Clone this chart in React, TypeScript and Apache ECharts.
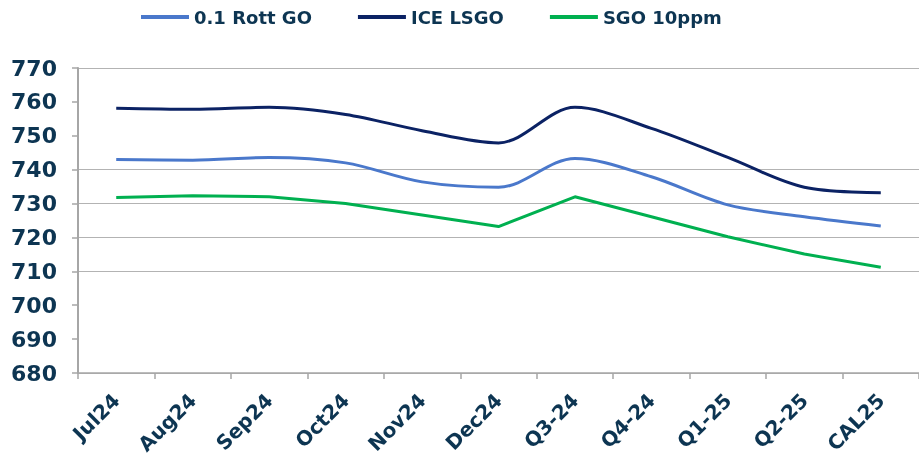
import React, { useEffect, useRef } from "react";
import * as echarts from "echarts";

const categories = ["Jul24", "Aug24", "Sep24", "Oct24", "Nov24", "Dec24", "Q3-24", "Q4-24", "Q1-25", "Q2-25", "CAL25"];
const rottGO = [743.0, 742.8, 743.6, 742.0, 736.4, 734.8, 743.3, 737.9, 729.6, 726.1, 723.4];
const iceLSGO = [758.1, 757.8, 758.4, 756.3, 751.5, 747.9, 758.4, 752.2, 743.6, 734.8, 733.2];
const sgo10ppm = [731.8, 732.3, 732.0, 730.0, 726.6, 723.2, 732.0, 726.1, 720.2, 715.1, 711.2];
const seriesNames = ["0.1 Rott GO", "ICE LSGO", "SGO 10ppm"];

const TEXT = "#0d3552";
const FONT = "DejaVu Sans";
const GRID = "#b3b3b3";

export default function App() {
  const ref = useRef<HTMLDivElement>(null);
  useEffect(() => {
    if (!ref.current) return;
    const chart = echarts.init(ref.current, null, { renderer: "svg" });
    chart.setOption({
      animation: false,
      legend: {
        left: 136,
        top: 3,
        icon: "rect",
        itemWidth: 48,
        itemHeight: 4,
        itemGap: 46,
        textStyle: { color: TEXT, fontFamily: FONT, fontWeight: "bold", fontSize: 18 },
        data: seriesNames,
      },
      grid: { left: 78, top: 68, right: 0, bottom: 87, containLabel: false, outerBoundsMode: "none" },
      xAxis: {
        type: "category",
        data: categories,
        boundaryGap: true,
        axisLine: { lineStyle: { color: "#a6a6a6", width: 1.5 } },
        axisTick: { show: true, length: 6, lineStyle: { color: "#a6a6a6", width: 1.5 } },
        axisLabel: {
          rotate: 45,
          interval: 0,
          margin: 24,
          color: TEXT,
          fontFamily: FONT,
          fontWeight: "bold",
          fontSize: 20,
        },
      },
      yAxis: {
        type: "value",
        min: 680,
        max: 770,
        interval: 10,
        axisLine: { show: true, lineStyle: { color: "#a6a6a6", width: 2 } },
        axisTick: { show: true, length: 6, lineStyle: { color: "#a6a6a6", width: 1.5 } },
        axisLabel: {
          margin: 21,
          color: TEXT,
          fontFamily: FONT,
          fontWeight: "bold",
          fontSize: 22,
        },
        splitLine: {
          show: true,
          lineStyle: {
            width: 1,
            color: [GRID, "transparent", "transparent", GRID, GRID, GRID, GRID, "transparent", "transparent", GRID],
          },
        },
      },
      series: [
        {
          name: seriesNames[0],
          type: "line",
          data: rottGO,
          smooth: 0.33,
          showSymbol: false,
          lineStyle: { color: "#4a78cb", width: 3 },
          itemStyle: { color: "#4a78cb" },
        },
        {
          name: seriesNames[1],
          type: "line",
          data: iceLSGO,
          smooth: 0.33,
          showSymbol: false,
          lineStyle: { color: "#0b2264", width: 3 },
          itemStyle: { color: "#0b2264" },
        },
        {
          name: seriesNames[2],
          type: "line",
          data: sgo10ppm,
          smooth: false,
          showSymbol: false,
          lineStyle: { color: "#00b050", width: 3 },
          itemStyle: { color: "#00b050" },
        },
      ],
    });
    return () => chart.dispose();
  }, []);
  return <div ref={ref} style={{ position: "fixed", left: 0, top: 0, width: 919, height: 460 }} />;
}
